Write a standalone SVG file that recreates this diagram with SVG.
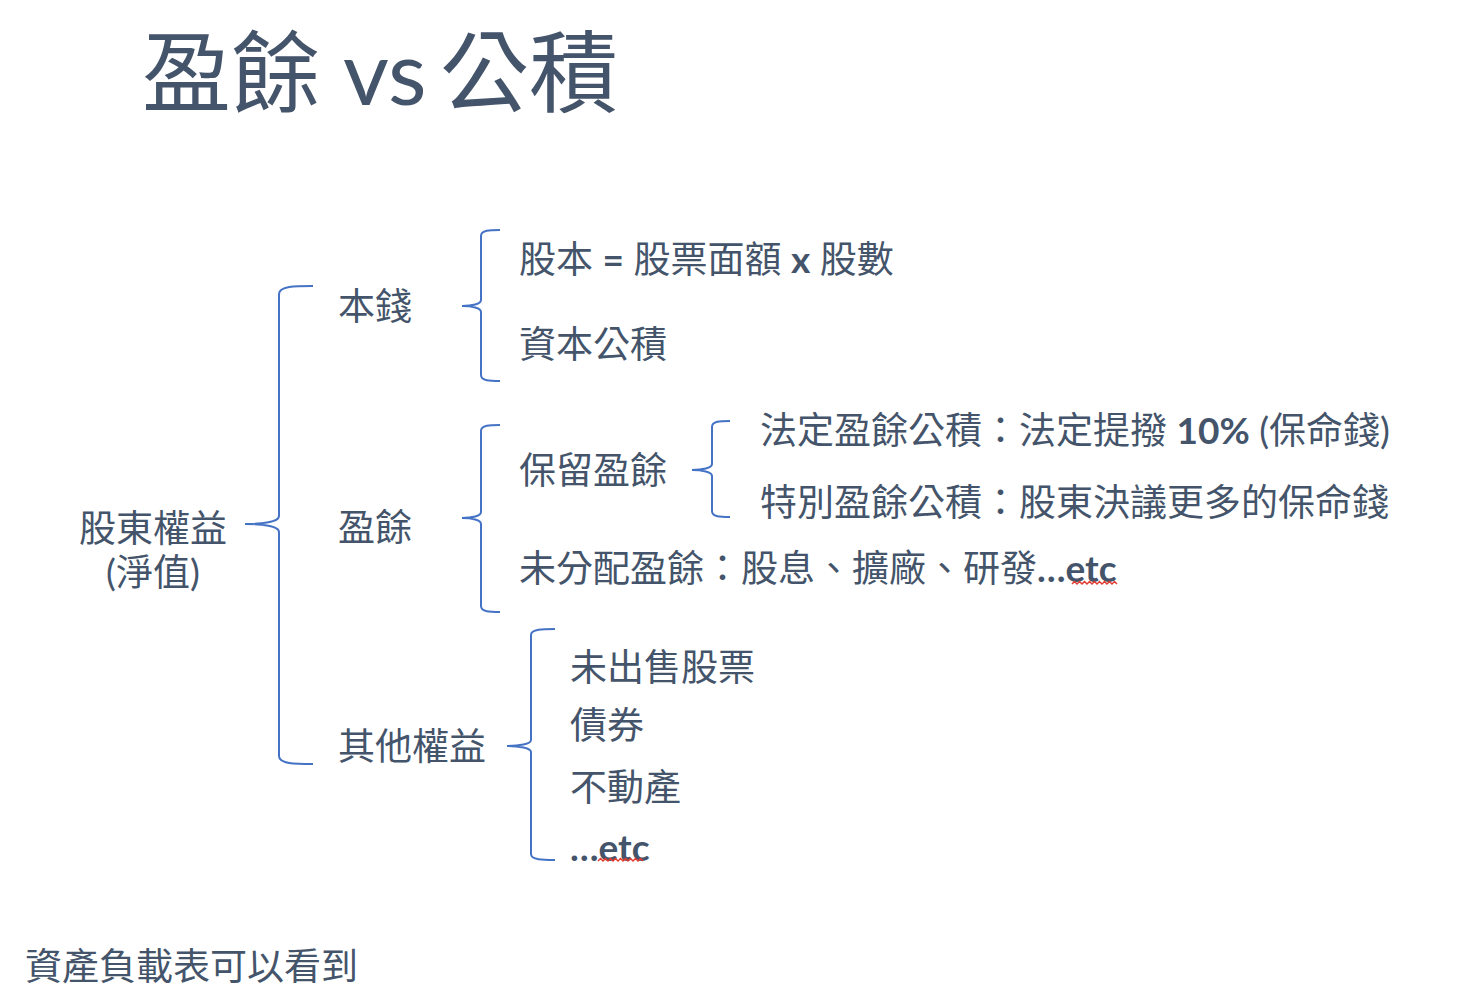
<svg xmlns="http://www.w3.org/2000/svg" width="1472" height="998" viewBox="0 0 1472 998">
<style>
text{font-family:Lato,"Noto Sans CJK TC","Noto Sans CJK SC",sans-serif;fill:#44546A;font-size:37px}
.title{font-size:89px}
.lat{font-weight:bold}
.brace{fill:none;stroke:#4472C4;stroke-width:2}
.squig{fill:none;stroke:#E03C31;stroke-width:1.5}
</style>
<rect width="1472" height="998" fill="#FFFFFF"/>
<g id="title"><text class="title" x="142" y="105">盈餘</text><text class="title" x="343" y="105">vs</text><text class="title" x="440" y="105">公積</text></g>
<g id="connectors">
<path class="brace" d="M313,286 C295,286 279,286 279,294 L279,516 C279,522 262,524 245,524 C262,524 279,526 279,532 L279,756 C279,764 295,764 313,764"/>
<path class="brace" d="M500,230 C490,230 481,230 481,236 L481,300 C481,304 472,306 462,306 C472,306 481,308 481,312 L481,375 C481,381 490,381 500,381"/>
<path class="brace" d="M500,425 C490,425 481,425 481,431 L481,512 C481,516 472,518 462,518 C472,518 481,520 481,524 L481,606 C481,612 490,612 500,612"/>
<path class="brace" d="M555,629 C543,629 531,629 531,635 L531,740 C531,744 519,746 507,746 C519,746 531,748 531,752 L531,854 C531,860 543,860 555,860"/>
<path class="brace" d="M730,421 C720,421 712,421 712,427 L712,464 C712,468 702,470 692,470 C702,470 712,472 712,476 L712,511 C712,517 720,517 730,517"/>
</g>
<g id="node-equity"><text x="153" y="542" text-anchor="middle">股東權益</text><text x="153" y="586" text-anchor="middle">(淨值)</text></g>
<g id="node-capital"><text x="338" y="320">本錢</text></g>
<g id="node-earnings"><text x="338" y="541">盈餘</text></g>
<g id="node-other"><text x="338" y="760">其他權益</text></g>
<g id="node-share-capital"><text x="519" y="273">股本 <tspan class="lat">=</tspan> 股票面額 <tspan class="lat">x</tspan> 股數</text></g>
<g id="node-capital-reserve"><text x="519" y="358">資本公積</text></g>
<g id="node-retained"><text x="519" y="484">保留盈餘</text></g>
<g id="node-legal-reserve"><text x="760" y="444">法定盈餘公積：法定提撥 <tspan class="lat">10%</tspan> (保命錢)</text></g>
<g id="node-special-reserve"><text x="760" y="516">特別盈餘公積：股東決議更多的保命錢</text></g>
<g id="node-undistributed"><text x="519" y="582">未分配盈餘：股息、擴廠、研發<tspan class="lat">…etc</tspan></text>
<path class="squig" d="M1072,584 l2.5,-2.5 l2.5,2.5 l2.5,-2.5 l2.5,2.5 l2.5,-2.5 l2.5,2.5 l2.5,-2.5 l2.5,2.5 l2.5,-2.5 l2.5,2.5 l2.5,-2.5 l2.5,2.5 l2.5,-2.5 l2.5,2.5 l2.5,-2.5 l2.5,2.5 l2.5,-2.5 l2.5,2.5"/></g>
<g id="node-unsold"><text x="570" y="681">未出售股票</text></g>
<g id="node-bonds"><text x="570" y="739">債券</text></g>
<g id="node-realestate"><text x="570" y="801">不動產</text></g>
<g id="node-etc"><text x="570" y="861" class="lat">…etc</text>
<path class="squig" d="M598,861 l2.5,-2.5 l2.5,2.5 l2.5,-2.5 l2.5,2.5 l2.5,-2.5 l2.5,2.5 l2.5,-2.5 l2.5,2.5 l2.5,-2.5 l2.5,2.5 l2.5,-2.5 l2.5,2.5 l2.5,-2.5 l2.5,2.5 l2.5,-2.5 l2.5,2.5 l2.5,-2.5 l2.5,2.5"/></g>
<g id="footnote"><text x="25" y="980">資產負載表可以看到</text></g>
</svg>
